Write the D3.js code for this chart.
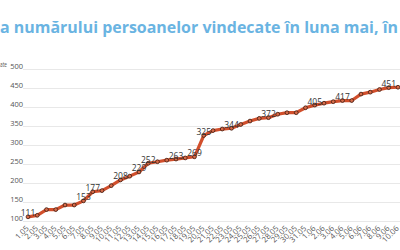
<!DOCTYPE html>
<html><head><meta charset="utf-8">
<script src="https://cdn.jsdelivr.net/npm/d3@7"></script>
<style>html,body{margin:0;padding:0;background:#fff;overflow:hidden}svg{display:block}</style>
</head><body><svg id="c" width="400" height="250"></svg>
<script>
const categories = ["1.05","2.05","3.05","4.05","5.05","6.05","7.05","8.05","9.05","10.05","11.05","12.05","13.05","14.05","15.05","16.05","17.05","18.05","19.05","20.05","21.05","22.05","23.05","24.05","25.05","26.05","27.05","28.05","29.05","30.05","31.05","1.06","2.06","3.06","4.06","5.06","6.06","7.06","8.06","9.06","10.06"];
const values = [111,115,130,130,142,142,153,177,180,193,208,218,229,252,256,260,263,266,269,325,338,342,344,354,363,370,372,381,385,385,398,405,410,414,417,417,434,439,446,451,452];
const labeledCategories = ["1.05","7.05","8.05","11.05","13.05","14.05","17.05","19.05","20.05","23.05","27.05","1.06","4.06","9.06"];
const yTicks = [100,150,200,250,300,350,400,450,500];
const titleText = "a numărului persoanelor vindecate în luna mai, în";
const yTitle = "ate";

const svg = d3.select("#c");
const x = d3.scalePoint().domain(categories).range([28, 398]);
const y = d3.scaleLinear().domain([100, 500]).range([221, 69]);

svg.append("text").attr("x", 0).attr("y", 33)
  .attr("font-family", "'Open Sans', sans-serif").attr("font-weight", "bold")
  .attr("font-size", 15.5).attr("fill", "#6ab4e2")
  .attr("textLength", 398).attr("lengthAdjust", "spacingAndGlyphs")
  .text(titleText);

// grid + y labels
const yAxis = d3.axisLeft(y).tickValues(yTicks).tickSize(-377).tickPadding(0);
const gy = svg.append("g").attr("transform", "translate(23,0)").call(yAxis);
gy.select(".domain").remove();
gy.selectAll(".tick line").attr("stroke", "#e8e8e8").attr("stroke-width", 1);
gy.selectAll(".tick text").attr("font-family", "'Open Sans', sans-serif")
  .attr("font-size", 7.5).attr("fill", "#555").attr("dy", "-0.1em");

svg.append("text").attr("x", 0).attr("y", 66.5)
  .attr("font-family", "'Open Sans', sans-serif").attr("font-size", 7).attr("fill", "#555")
  .attr("textLength", 7).attr("lengthAdjust", "spacingAndGlyphs")
  .text(yTitle);

// x labels
const xAxis = d3.axisBottom(x).tickSize(0).tickPadding(0);
const gx = svg.append("g").attr("transform", "translate(0,227)").call(xAxis);
gx.select(".domain").remove();
gx.selectAll(".tick text")
  .attr("font-family", "'Open Sans', sans-serif").attr("font-size", 7.8).attr("fill", "#555")
  .attr("text-anchor", "end").attr("dy", "0.35em").attr("y", 0).attr("x", 0)
  .attr("transform", "translate(-1,0) rotate(-45)");

const data = categories.map((c, i) => ({c, v: values[i]}));
const line = d3.line().x(d => x(d.c)).y(d => y(d.v));
svg.append("path").datum(data).attr("d", line)
  .attr("fill", "none").attr("stroke", "#d14f2c").attr("stroke-width", 3.2)
  .attr("stroke-linejoin", "round");

svg.append("g").selectAll("circle").data(data).join("circle")
  .attr("cx", d => x(d.c)).attr("cy", d => y(d.v)).attr("r", 1.9)
  .attr("fill", "#d86a48").attr("stroke", "#3b1c12").attr("stroke-width", 0.8);

svg.append("g").selectAll("text").data(data.filter(d => labeledCategories.includes(d.c))).join("text")
  .attr("x", d => x(d.c)).attr("y", d => y(d.v) - 0.5).attr("text-anchor", "middle")
  .attr("font-family", "'Open Sans', sans-serif").attr("font-size", 8.5).attr("fill", "#333")
  .text(d => d.v);
</script></body></html>
